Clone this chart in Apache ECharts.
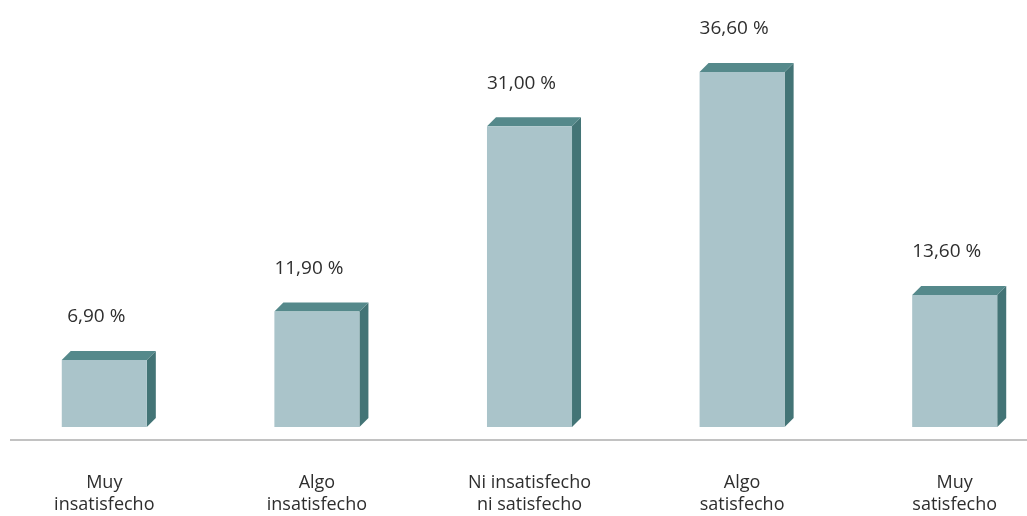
<!DOCTYPE html>
<html>
<head>
<meta charset="utf-8">
<script src="https://cdn.jsdelivr.net/npm/echarts@6/dist/echarts.min.js"></script>
<style>
  html, body { margin: 0; padding: 0; background: #ffffff; }
  #chart { width: 1027px; height: 516px; }
</style>
</head>
<body>
<div id="chart"></div>
<script>
// Satisfaction levels and their share of respondents (%)
const categories = [
  'Muy\ninsatisfecho',
  'Algo\ninsatisfecho',
  'Ni insatisfecho\nni satisfecho',
  'Algo\nsatisfecho',
  'Muy\nsatisfecho'
];
const shares = [6.9, 11.9, 31.0, 36.6, 13.6];

const FRONT = '#aac4ca';
const TOP = '#55898b';
const SIDE = '#437476';
const TEXT = '#2e2e2e';
const DEPTH = 9;

function fmt(v) {
  return v.toFixed(2).replace('.', ',') + ' %';
}

// Box-style bar: front face, slanted top and right side
function renderBox(params, api) {
  const idx = api.value(0);
  const val = api.value(1);
  const topPt = api.coord([idx, val]);
  const basePt = api.coord([idx, 0]);
  const band = api.size([1, 0])[0];
  const w = band * 0.4;
  const x = topPt[0] - w / 2;
  const y = topPt[1];
  const b = basePt[1];
  const d = DEPTH;
  return {
    type: 'group',
    children: [
      {
        type: 'polygon',
        shape: { points: [[x + w, y], [x + w + d, y - d], [x + w + d, b - d], [x + w, b]] },
        style: { fill: SIDE }
      },
      {
        type: 'polygon',
        shape: { points: [[x, y], [x + d, y - d], [x + w + d, y - d], [x + w, y]] },
        style: { fill: TOP }
      },
      {
        type: 'rect',
        shape: { x: x, y: y, width: w, height: b - y },
        style: { fill: FRONT }
      },
      {
        type: 'text',
        style: {
          x: topPt[0] - 8,
          y: y - d - 34,
          text: fmt(val),
          fill: TEXT,
          font: '19px "Open Sans", sans-serif',
          align: 'center',
          verticalAlign: 'middle'
        }
      }
    ]
  };
}

const chart = echarts.init(document.getElementById('chart'), null, { renderer: 'canvas' });
chart.setOption({
  backgroundColor: '#ffffff',
  animation: false,
  grid: {
    left: -2, right: -34, top: 39, bottom: 89,
    containLabel: false,
    outerBoundsMode: 'none'
  },
  xAxis: {
    type: 'category',
    data: categories,
    axisLine: { show: false },
    axisTick: { show: false },
    axisLabel: {
      interval: 0,
      margin: 45,
      color: TEXT,
      fontFamily: '"Open Sans", sans-serif',
      fontSize: 18,
      lineHeight: 22
    }
  },
  yAxis: {
    type: 'value',
    min: 0,
    max: 40,
    show: false
  },
  graphic: [
    {
      type: 'line',
      shape: { x1: 10, y1: 440, x2: 1027, y2: 440 },
      style: { stroke: '#c2c2c2', lineWidth: 2 }
    }
  ],
  series: [
    {
      type: 'custom',
      renderItem: renderBox,
      data: shares.map((v, i) => [i, v]),
      encode: { x: 0, y: 1 }
    }
  ]
});
</script>
</body>
</html>
